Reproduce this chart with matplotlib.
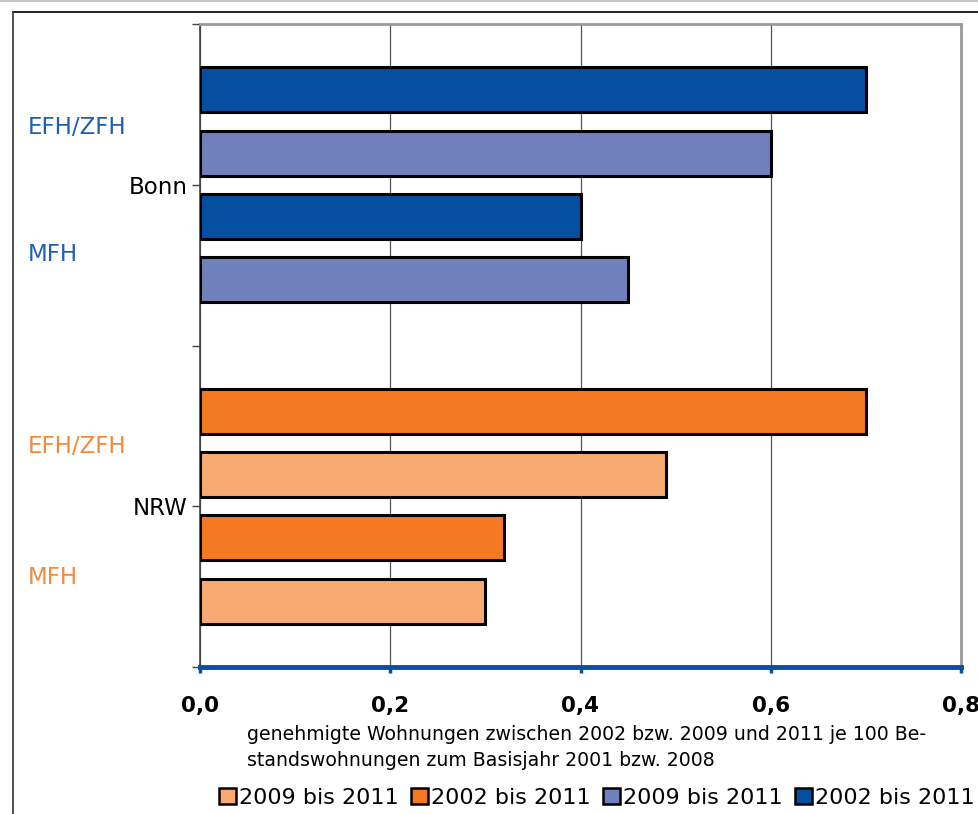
import matplotlib
matplotlib.use("Agg")
import matplotlib.pyplot as plt
from matplotlib.patches import Patch
from matplotlib.lines import Line2D

# data
regions = ["Bonn", "NRW"]
types = ["EFH/ZFH", "MFH"]
series_labels = ["2009 bis 2011", "2002 bis 2011", "2009 bis 2011", "2002 bis 2011"]

bonn_2002 = [0.70, 0.40]   # EFH/ZFH, MFH
bonn_2009 = [0.60, 0.45]
nrw_2002 = [0.70, 0.32]
nrw_2009 = [0.49, 0.30]

c_bonn_dark = "#054fa0"
c_bonn_light = "#7080bd"
c_nrw_dark = "#f47920"
c_nrw_light = "#f9aa73"

fig = plt.figure(figsize=(9.79, 8.14), dpi=100)
W, H = 979, 814
ax = fig.add_axes([200 / W, 1 - 667 / H, 761 / W, 643 / H])

# y positions: group centre and offsets of the four bars
centres = {"Bonn": 3.0, "NRW": 1.0}
offsets = [0.59, 0.197, -0.197, -0.59]
bh = 0.28

def draw_group(region, v2002, v2009, cd, cl):
    c = centres[region]
    vals = [v2002[0], v2009[0], v2002[1], v2009[1]]
    cols = [cd, cl, cd, cl]
    for off, v, col in zip(offsets, vals, cols):
        ax.barh(c + off, v, height=bh, color=col, edgecolor="black",
                linewidth=2.2, zorder=3)

draw_group("Bonn", bonn_2002, bonn_2009, c_bonn_dark, c_bonn_light)
draw_group("NRW", nrw_2002, nrw_2009, c_nrw_dark, c_nrw_light)

ax.set_xlim(0, 0.8)
ax.set_ylim(0, 4)
ax.set_xticks([0, 0.2, 0.4, 0.6, 0.8])
ax.set_xticklabels(["0,0", "0,2", "0,4", "0,6", "0,8"],
                   fontsize=15.5, fontweight="bold")
ax.xaxis.grid(True, color="#555555", linewidth=0.9, zorder=0)
ax.tick_params(axis="x", length=4, width=2.5, color="#0b4ea2", pad=17)

ax.set_yticks([0, 1, 2, 3, 4])
ax.set_yticklabels(["", "NRW", "", "Bonn", ""], fontsize=16.5)
ax.tick_params(axis="y", length=6, width=1, color="#444444", pad=3)

for s in ["top", "right"]:
    ax.spines[s].set_color("#999999")
    ax.spines[s].set_linewidth(2)
ax.spines["left"].set_color("#444444")
ax.spines["left"].set_linewidth(1.2)
ax.spines["bottom"].set_color("#0b4ea2")
ax.spines["bottom"].set_linewidth(3.5)
ax.spines["bottom"].set_zorder(5)

# inner category labels (EFH/ZFH, MFH) coloured per region
label_pos = {("Bonn", 0): 127, ("Bonn", 1): 254, ("NRW", 0): 446, ("NRW", 1): 577}
for (reg, i), py in label_pos.items():
    col = "#1f5fb0" if reg == "Bonn" else "#f28a3c"
    fig.text(28 / W, 1 - py / H, types[i], color=col, fontsize=16.5,
             ha="left", va="center")

# axis title, two lines
fig.text(247 / W, 1 - 735 / H,
         "genehmigte Wohnungen zwischen 2002 bzw. 2009 und 2011 je 100 Be-",
         fontsize=13.6, ha="left", va="center")
fig.text(247 / W, 1 - 760 / H,
         "standswohnungen zum Basisjahr 2001 bzw. 2008",
         fontsize=13.6, ha="left", va="center")

handles = [Patch(facecolor=c, edgecolor="black", linewidth=1.8)
           for c in [c_nrw_light, c_nrw_dark, c_bonn_light, c_bonn_dark]]
fig.legend(handles, series_labels, loc="center", ncol=4,
           bbox_to_anchor=(597 / W, 1 - 798 / H), frameon=False,
           fontsize=16, handlelength=0.75, handleheight=0.75,
           handletextpad=0.15, columnspacing=0.55, borderpad=0)

# outer frame lines
fig.add_artist(Line2D([0, 1], [1 - 0.5 / H, 1 - 0.5 / H], color="#bbbbbb",
                      linewidth=1.2, transform=fig.transFigure))
fig.add_artist(Line2D([13 / W, 1], [1 - 12 / H, 1 - 12 / H], color="black",
                      linewidth=1.2, transform=fig.transFigure))
fig.add_artist(Line2D([13 / W, 13 / W], [0, 1 - 12 / H], color="#333333",
                      linewidth=1.2, transform=fig.transFigure))

fig.savefig("out.png", dpi=100)
